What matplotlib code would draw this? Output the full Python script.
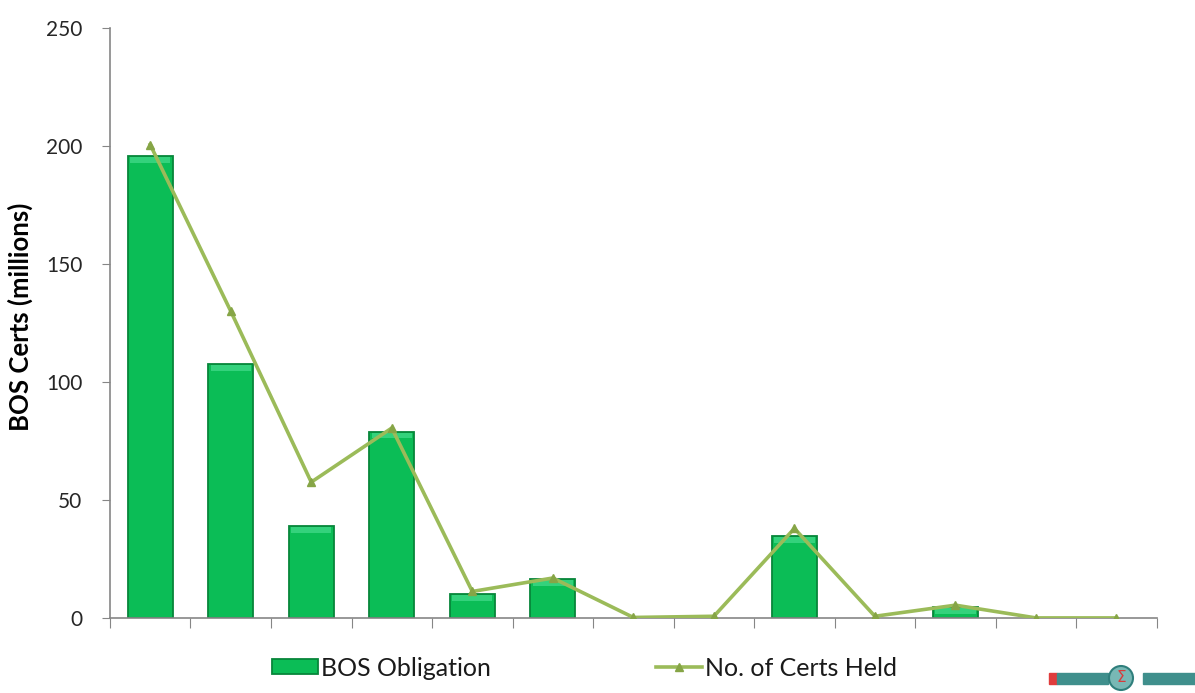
import matplotlib
matplotlib.use("Agg")
import matplotlib.pyplot as plt
from matplotlib.patches import Rectangle, Circle
import numpy as np

plt.rcParams["font.family"] = ["Lato", "DejaVu Sans"]

# BOS obligation per band (millions) and number of certs held (millions)
categories = list(range(1, 14))
bos_obligation = [195.5, 107.5, 39.0, 79.0, 10.3, 16.5, 0, 0, 34.7, 0, 4.7, 0, 0]
certs_held = [200.5, 130.0, 57.6, 80.5, 11.3, 17.0, 0.3, 0.8, 38.0, 0.8, 5.5, 0.1, 0.1]
y_ticks = [0, 50, 100, 150, 200, 250]

BAR = "#0bbd56"
BAR_EDGE = "#07863a"
LINE = "#9bbb59"
MARK = "#86a546"
AXIS = "#868686"

fig = plt.figure(figsize=(11.95, 6.93), dpi=100)
ax = fig.add_axes([0.092, 0.108, 0.876, 0.852])

x = np.arange(len(categories))
edge_w = [1.3 if v > 0 else 0 for v in bos_obligation]
bar_h = ax.bar(x, bos_obligation, width=0.56, color=BAR, edgecolor=BAR_EDGE,
               linewidth=edge_w, zorder=2)
# soft bevel along each bar top
for xi, v in zip(x, bos_obligation):
    if v > 0:
        h = min(v * 0.5, 2.5)
        ax.bar(xi, h, bottom=v - h - 0.4, width=0.5, color="#34d27c",
               linewidth=0, zorder=2.5)

line_h, = ax.plot(x, certs_held, color=LINE, linewidth=2.6, marker="^", markersize=6,
                  markerfacecolor=MARK, markeredgecolor=MARK, zorder=3)

ax.set_xlim(-0.5, len(categories) - 0.5)
ax.set_ylim(0, 250)
ax.set_yticks(y_ticks)
ax.set_xticks(np.arange(len(categories) + 1) - 0.5)
ax.set_xticklabels([])
ax.tick_params(axis="y", direction="out", length=6, color=AXIS, labelsize=15,
               labelcolor="#262626", pad=14)
ax.tick_params(axis="x", direction="out", length=7, color=AXIS)
for s in ("top", "right"):
    ax.spines[s].set_visible(False)
for s in ("left", "bottom"):
    ax.spines[s].set_color(AXIS)
    ax.spines[s].set_linewidth(1.2)

ax.set_ylabel("BOS Certs (millions)", fontsize=18.5, fontweight="bold")
ax.yaxis.set_label_coords(-0.0735, 0.511)

fig.legend([bar_h, line_h], ["BOS Obligation", "No. of Certs Held"],
           loc="center", bbox_to_anchor=(0.489, 0.036), ncol=2, frameon=False,
           fontsize=18, columnspacing=6.6, handlelength=1.85, handletextpad=0.1,
           handleheight=0.55, labelcolor="#1a1a1a")

# small logo, bottom right (axes in pixel units)
lg = fig.add_axes([1040 / 1195, 0, 155 / 1195, 43 / 693])
lg.set_xlim(0, 155)
lg.set_ylim(0, 43)
lg.axis("off")
lg.add_patch(Rectangle((9, 9), 8, 11, color="#e03c3c"))
lg.add_patch(Rectangle((17, 9), 51, 11, color="#3f8f8c"))
lg.add_patch(Rectangle((103, 9), 52, 11, color="#3f8f8c"))
lg.add_patch(Circle((81, 15), 12, facecolor="#78b8b5", edgecolor="#2f7f7c", lw=1.5))
lg.text(81, 15, "Σ", color="#d93a3a", ha="center", va="center", fontsize=11,
        family="DejaVu Sans")

fig.savefig("out.png", dpi=100)
